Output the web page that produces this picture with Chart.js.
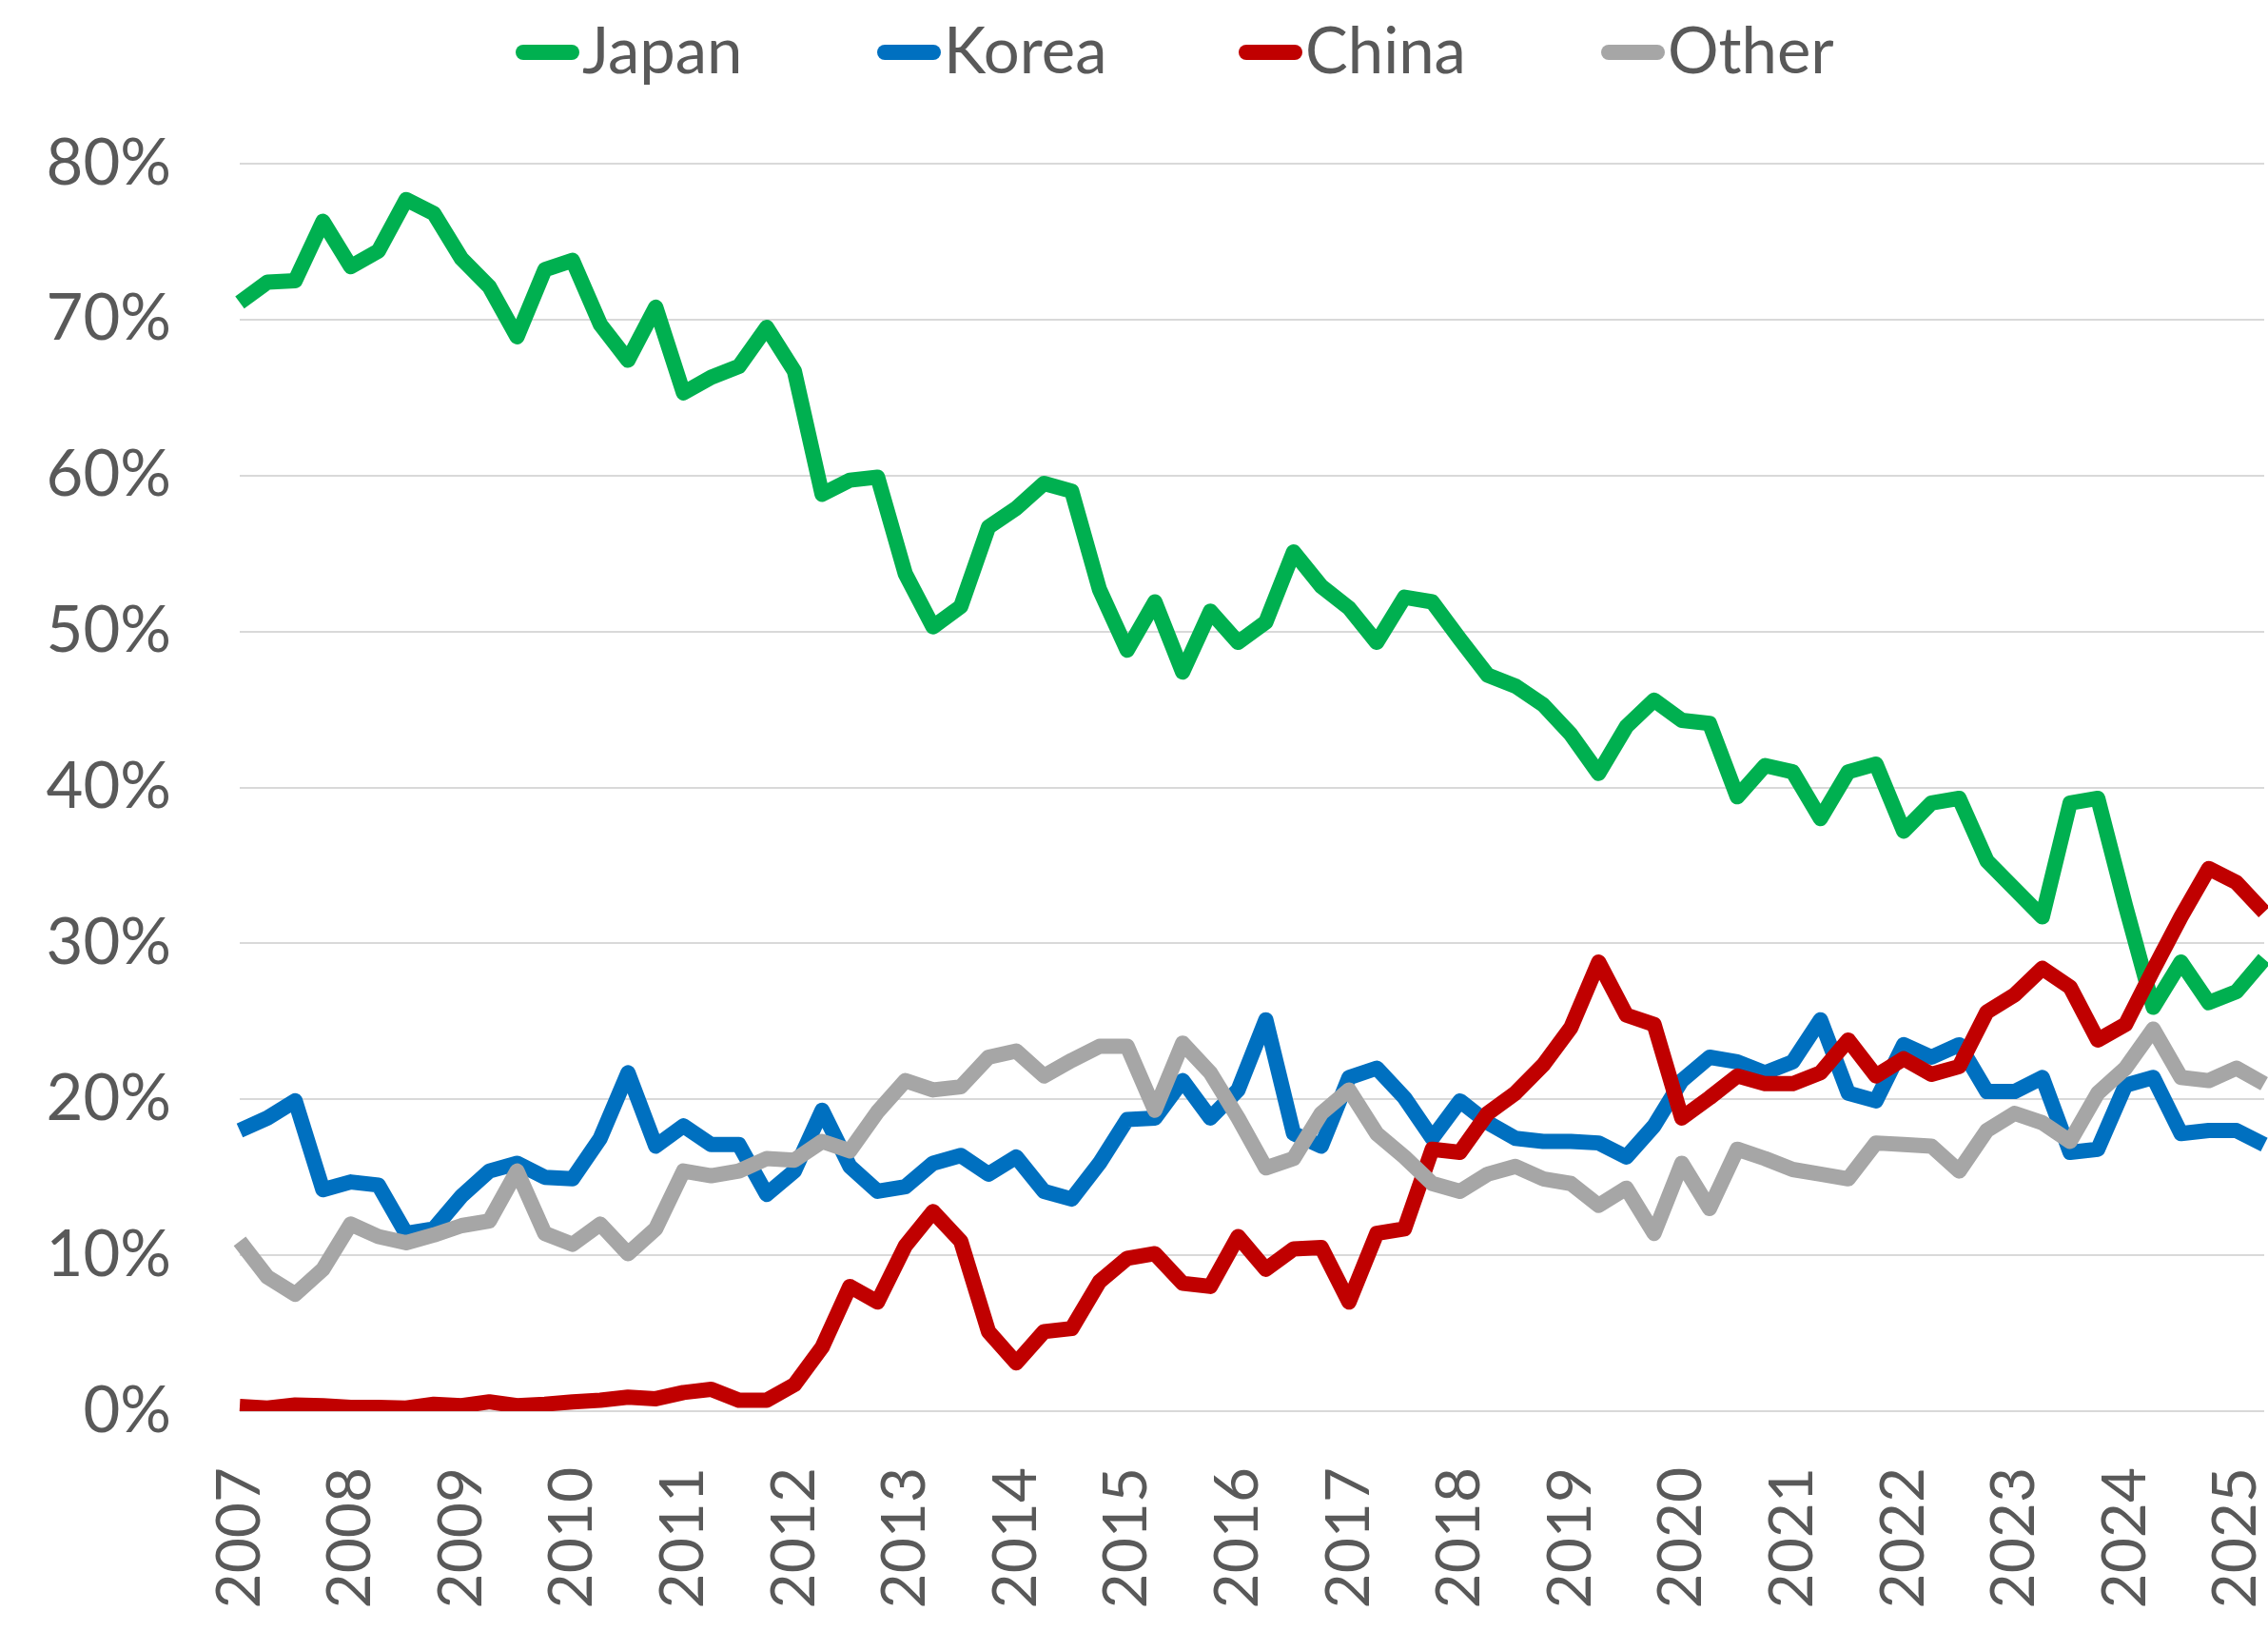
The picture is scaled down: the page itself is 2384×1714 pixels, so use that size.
<!DOCTYPE html>
<html>
<head>
<meta charset="utf-8">
<title>Share by country</title>
<script src="https://cdn.jsdelivr.net/npm/chart.js@4.4.1/dist/chart.umd.min.js"></script>
<style>
    html, body { margin: 0; padding: 0; background: #fff; }
    #wrap { position: relative; width: 2384px; height: 1714px; }
    #legend { position: absolute; left: 0; top: 0; width: 2384px; height: 120px;
        font-family: Lato, sans-serif; font-size: 67px; color: #595959; }
    .item { position: absolute; top: 18px; height: 67px; line-height: 67px; white-space: nowrap; }
    .swatch { position: absolute; left: 0; top: 29px; width: 67px; height: 16px; border-radius: 8px; }
    .item span { position: absolute; left: 70px; top: 0; }
</style>
</head>
<body>
<div id="wrap">
    <canvas id="chart" width="2384" height="1714"></canvas>
    <div id="legend"></div>
</div>
<script>
// tick labels (one per year, shown on Q1)
const years = ['2007', '2008', '2009', '2010', '2011', '2012', '2013', '2014', '2015',
    '2016', '2017', '2018', '2019', '2020', '2021', '2022', '2023', '2024', '2025'];
const quarterNames = ['Q1', 'Q2', 'Q3', 'Q4'];
// 2007 Q1 .. 2025 Q2
const categories = years.flatMap(y => quarterNames.map(q => y + ' ' + q)).slice(0, 74);

const seriesNames = ['Japan', 'Korea', 'China', 'Other'];
const seriesColors = ['#00B050', '#0070C0', '#C00000', '#A6A6A6'];

// share in %
const japan = [71.1, 72.4, 72.5, 76.3, 73.4, 74.4, 77.7, 76.8, 73.9, 72.1, 68.9, 73.2, 73.8,
    69.7, 67.4, 70.8, 65.3, 66.3, 67.0, 69.5, 66.7, 58.8, 59.7, 59.9, 53.7,
    50.3, 51.6, 56.7, 57.9, 59.5, 59.0, 52.7, 48.8, 51.9, 47.4, 51.3, 49.3, 50.6,
    55.1, 52.9, 51.5, 49.3, 52.2, 51.9, 49.5, 47.2, 46.5, 45.3, 43.4, 40.9,
    43.9, 45.6, 44.3, 44.1, 39.4, 41.4, 41.0, 38.0, 41.0, 41.5, 37.2, 39.0,
    39.3, 35.3, 33.5, 31.7, 39.0, 39.3, 32.4, 25.9, 28.8, 26.2, 26.9, 29.0];
const korea = [18.0, 18.8, 19.9, 14.2, 14.7, 14.5, 11.4, 11.7, 13.8, 15.4, 15.9, 15.0, 14.9,
    17.5, 21.7, 17.0, 18.3, 17.1, 17.1, 13.9, 15.4, 19.3, 15.7, 14.1, 14.4,
    15.9, 16.4, 15.2, 16.3, 14.1, 13.6, 15.9, 18.7, 18.8, 21.2, 18.8, 20.6, 25.1,
    17.8, 17.0, 21.4, 22.0, 20.1, 17.5, 19.9, 18.5, 17.5, 17.3, 17.3, 17.2,
    16.3, 18.3, 21.2, 22.7, 22.4, 21.7, 22.4, 25.1, 20.4, 19.9, 23.5, 22.7,
    23.5, 20.5, 20.5, 21.4, 16.6, 16.8, 20.9, 21.4, 17.8, 18.0, 18.0, 17.1];
const china = [0.3, 0.2, 0.4, 0.35, 0.25, 0.25, 0.2, 0.45, 0.35, 0.6, 0.35, 0.45, 0.6,
    0.7, 0.9, 0.8, 1.2, 1.4, 0.7, 0.7, 1.7, 4.1, 8.0, 7.0, 10.6,
    12.8, 10.9, 5.1, 3.1, 5.1, 5.3, 8.3, 9.8, 10.1, 8.2, 8.0, 11.2, 9.1,
    10.4, 10.5, 7.0, 11.4, 11.7, 16.8, 16.6, 19.1, 20.4, 22.2, 24.6, 28.8,
    25.4, 24.8, 18.8, 20.1, 21.5, 21.0, 21.0, 21.7, 23.8, 21.5, 22.6, 21.6,
    22.1, 25.6, 26.7, 28.4, 27.2, 23.8, 24.8, 28.3, 31.7, 34.8, 33.9, 32.0];
const other = [10.9, 8.6, 7.5, 9.1, 12.0, 11.2, 10.8, 11.3, 11.9, 12.2, 15.4, 11.4, 10.7,
    12.0, 10.1, 11.7, 15.4, 15.1, 15.4, 16.2, 16.1, 17.3, 16.7, 19.2, 21.2,
    20.6, 20.8, 22.7, 23.1, 21.5, 22.5, 23.4, 23.4, 19.3, 23.6, 21.7, 18.8, 15.6,
    16.2, 19.1, 20.6, 17.8, 16.3, 14.6, 14.1, 15.2, 15.7, 14.9, 14.6, 13.2,
    14.3, 11.4, 15.9, 13.0, 16.8, 16.2, 15.5, 15.2, 14.9, 17.2, 17.1, 17.0,
    15.4, 18.0, 19.1, 18.5, 17.3, 20.4, 22.0, 24.5, 21.4, 21.2, 22.0, 21.0];

const seriesValues = [japan, korea, china, other];
const textColor = '#595959';

// legend (html, Excel-like line markers)
const legendLeft = [542, 922, 1302, 1683];
const legendElem = document.getElementById('legend');
seriesNames.forEach((name, i) => {
    const item = document.createElement('div');
    item.className = 'item';
    item.style.left = legendLeft[i] + 'px';
    item.innerHTML = `<div class="swatch" style="background:${seriesColors[i]}"></div><span>${name}</span>`;
    legendElem.appendChild(item);
});

const ctx = document.getElementById('chart').getContext('2d');
new Chart(ctx, {
    type: 'line',
    data: {
        labels: categories,
        datasets: seriesNames.map((name, i) => ({
            label: name,
            data: seriesValues[i],
            borderColor: seriesColors[i],
            backgroundColor: seriesColors[i],
            borderWidth: 16,
            borderJoinStyle: 'round',
            borderCapStyle: 'butt',
            pointRadius: 0,
            tension: 0,
            order: seriesNames.length - i   // later series on top, like Excel
        }))
    },
    options: {
        responsive: false,
        animation: false,
        events: [],
        layout: { padding: { top: 172, left: 0, right: 4, bottom: 0 } },
        plugins: {
            legend: { display: false },
            tooltip: { enabled: false }
        },
        scales: {
            x: {
                grid: { display: false },
                border: { display: false },
                ticks: {
                    autoSkip: false,
                    minRotation: 90,
                    maxRotation: 90,
                    padding: 51,
                    color: textColor,
                    font: { family: 'Lato', size: 64 },
                    callback: (val, idx) => idx % 4 === 0 ? years[idx / 4] : ''
                },
                afterFit: (s) => {
                    s.height = 1714 - 1483;
                    s.paddingLeft = 0;
                    s.paddingRight = 0;
                }
            },
            y: {
                min: 0,
                max: 80,
                ticks: {
                    stepSize: 10,
                    padding: 72,
                    color: textColor,
                    font: { family: 'Lato', size: 67 },
                    callback: (v) => v + '%'
                },
                grid: { color: '#D9D9D9', lineWidth: 2, drawTicks: false },
                border: { display: false },
                afterFit: (s) => { s.width = 252; }
            }
        }
    }
});
</script>
</body>
</html>
